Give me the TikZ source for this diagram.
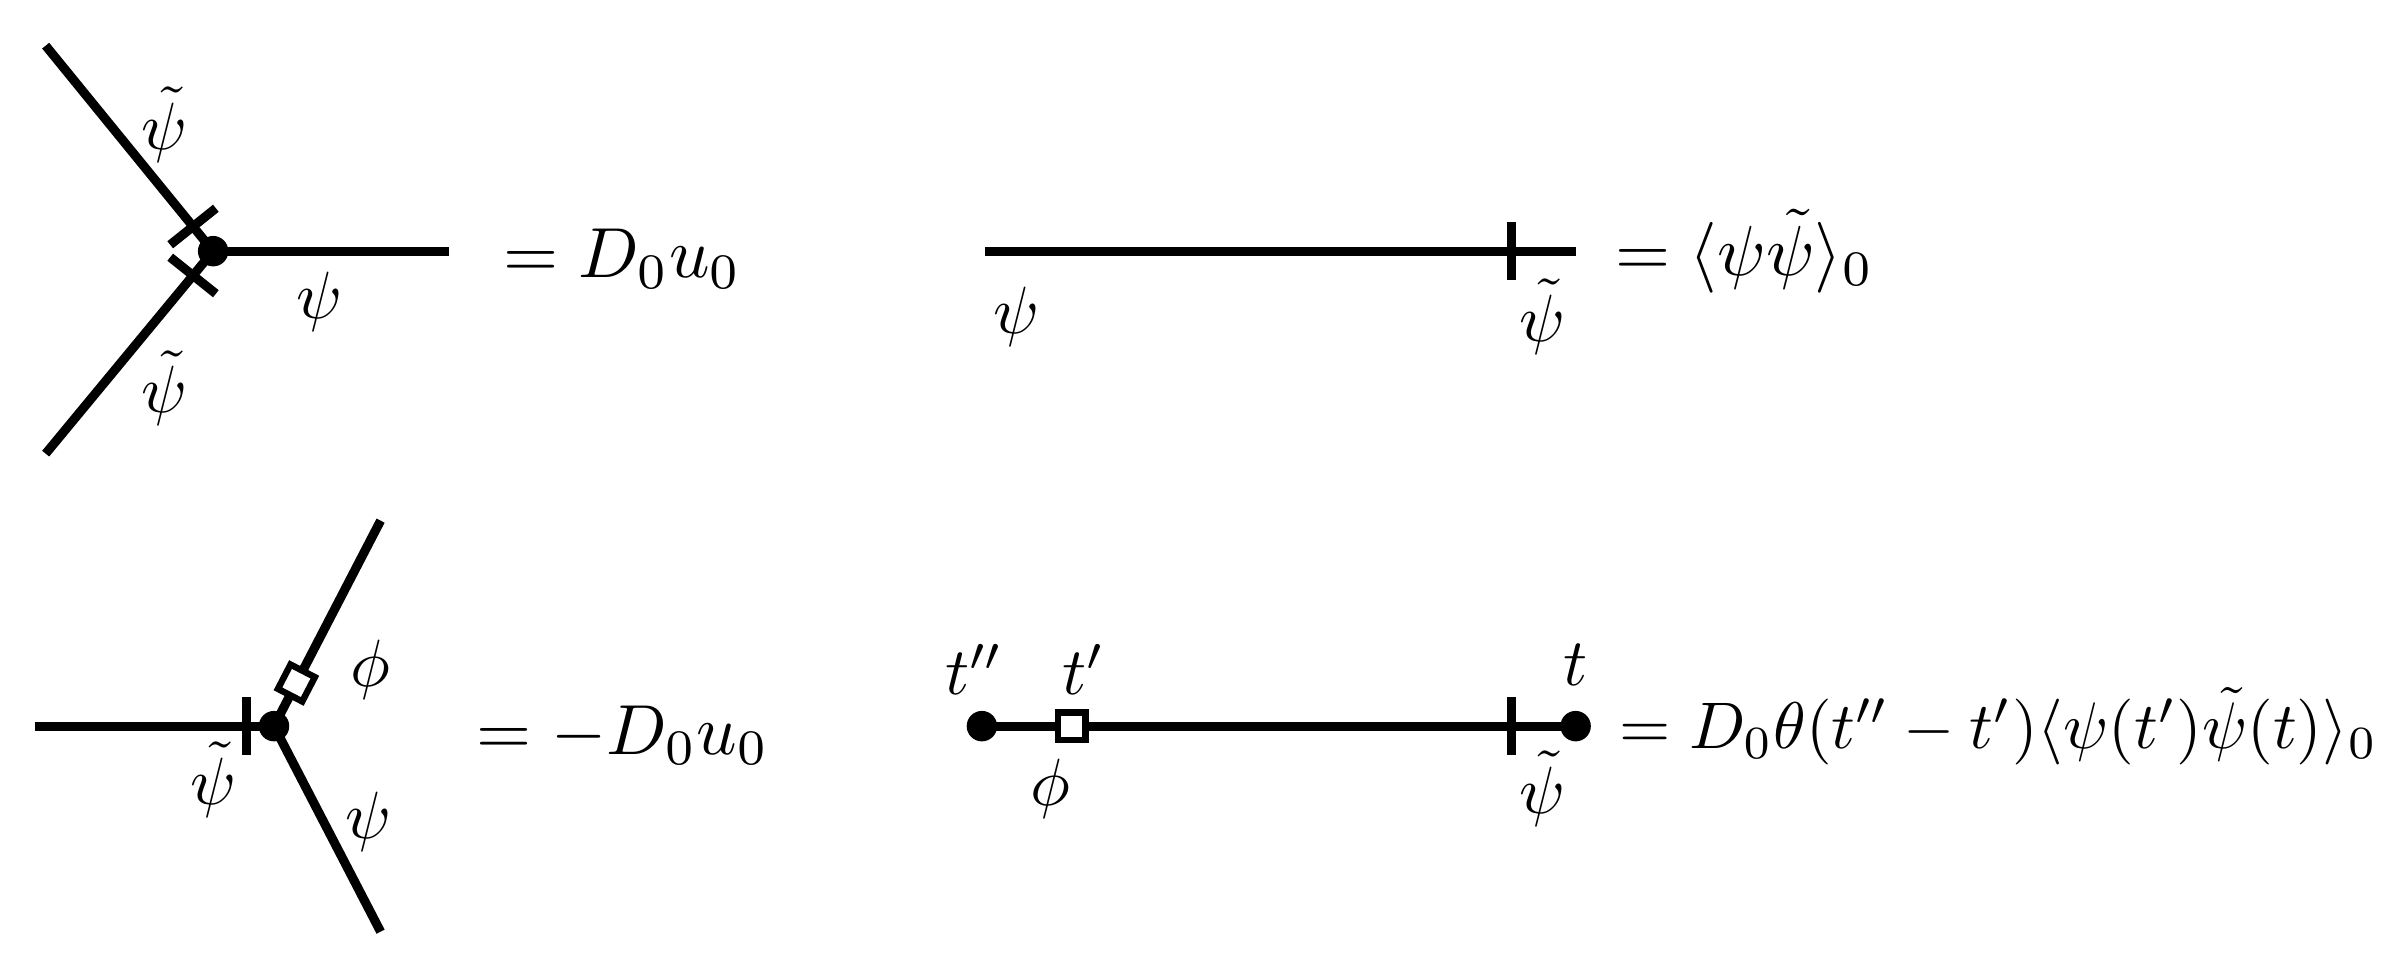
\documentclass[tikz,border=0pt]{standalone}
\usepackage{amsmath}
\usetikzlibrary{calc}
\begin{document}
\begin{tikzpicture}[x=0.02cm,y=-0.02cm,
  ln/.style={line width=3.4pt},
  dotn/.style={circle,fill=black,inner sep=0pt,minimum size=0.4cm},
  sq/.style={draw,line width=2.4pt,fill=white,inner sep=0pt,minimum size=0.36cm},
  lab/.style={scale=2.5,inner sep=0pt},
  eq/.style={scale=2.65,anchor=west,inner sep=0pt}]
\useasboundingbox (0,0) rectangle (1568,634);
% top-left vertex
\node[dotn] (v1) at (140,165) {};
\coordinate (a1) at (30,30); \coordinate (b1) at (30,298); \coordinate (c1) at (295,165);
\draw[ln] (v1.center) -- (a1); \draw[ln] (v1.center) -- (b1); \draw[ln] (v1.center) -- (c1);
\coordinate (k1) at ($(v1)!0.12!(a1)$);
\draw[ln] ($(k1)+(15,-12)$) -- ($(k1)+(-15,12)$);
\coordinate (k2) at ($(v1)!0.12!(b1)$);
\draw[ln] ($(k2)+(15,12)$) -- ($(k2)+(-15,-12)$);
\node[lab] (l1) at (108,82) {$\tilde\psi$};
\node[lab] (l2) at (108,255) {$\tilde\psi$};
\node[lab] (l3) at (210,198) {$\psi$};
\node[eq] (e1) at (330,170) {$=D_0u_0$};
% top-right propagator
\coordinate (p1) at (647,165); \coordinate (p2) at (1035,165);
\draw[ln] (p1) -- (p2);
\coordinate (t1) at (993,165);
\draw[ln] ($(t1)+(0,-19)$) -- ($(t1)+(0,19)$);
\node[lab] (l4) at (668,208) {$\psi$};
\node[lab] (l5) at (1013,208) {$\tilde\psi$};
\node[eq] (e2) at (1060,165) {$=\langle\psi\tilde\psi\rangle_0$};
% bottom-left vertex
\node[dotn] (v2) at (180,477) {};
\coordinate (a2) at (23,477); \coordinate (b2) at (250,342); \coordinate (c2) at (250,612);
\draw[ln] (v2.center) -- (a2); \draw[ln] (v2.center) -- (b2); \draw[ln] (v2.center) -- (c2);
\draw[ln] (162,458) -- (162,496);
\node[sq,rotate=62.6] (s1) at ($(v2)!0.21!(b2)$) {};
\node[lab] (l6) at (140,512) {$\tilde\psi$};
\node[lab] (l7) at (243,440) {$\phi$};
\node[lab] (l8) at (242,540) {$\psi$};
\node[eq] (e3) at (312,483) {$=-D_0u_0$};
% bottom-right
\node[dotn] (d1) at (645,477) {};
\node[dotn] (d2) at (1035,477) {};
\draw[ln] (d1.center) -- (d2.center);
\draw[ln] (993,458) -- (993,496);
\node[sq] (s2) at (704,477) {};
\node[lab] (l9) at (640,440) {$t''$};
\node[lab] (l10) at (712,440) {$t'$};
\node[lab] (l11) at (1035,437) {$t$};
\node[lab] (l12) at (690,518) {$\phi$};
\node[lab] (l13) at (1013,518) {$\tilde\psi$};
\node[eq,scale=0.93] (e4) at (1063,477) {$=D_0\theta(t''-t')\langle\psi(t')\tilde\psi(t)\rangle_0$};
\end{tikzpicture}
\end{document}
